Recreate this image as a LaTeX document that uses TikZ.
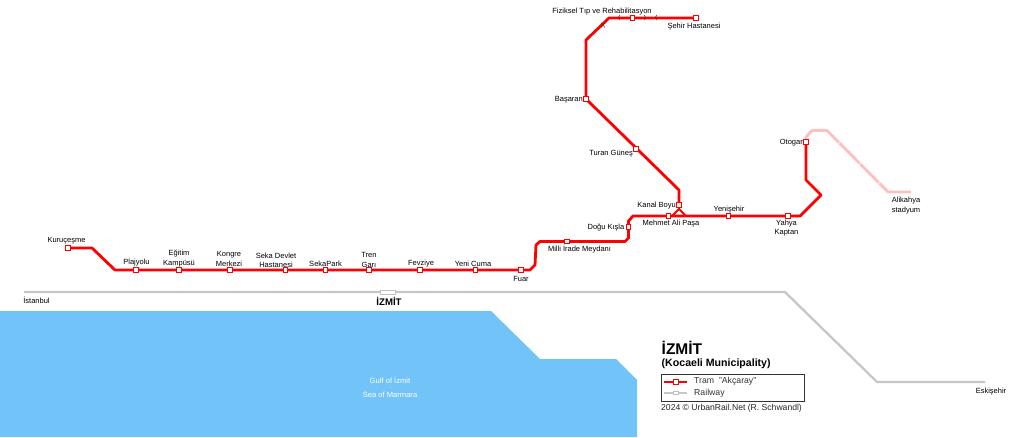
\documentclass[tikz,border=0pt]{standalone}
\usepackage{fontspec}
\setmainfont{Liberation Sans}
\tikzset{x=1pt,y=-1pt,
 tram/.style={draw=red,line width=2.8pt,line join=round},
 pale/.style={draw=red!25,line width=2.8pt,line join=round},
 rail/.style={draw=black!22,line width=2.3pt,line join=round},
 stn/.style={draw=red,fill=white,line width=0.9pt,minimum size=4.4pt,inner sep=0pt,rectangle},
 lab/.style={font=\fontsize{7.5}{9.2}\selectfont,text=black,inner sep=0pt,align=center,yshift=-1pt},
 sea/.style={font=\fontsize{7.6}{8}\selectfont,text=white,inner sep=0pt},
 tick/.style={draw=black!80,line width=0.5pt}}
\begin{document}
\begin{tikzpicture}
\useasboundingbox (0,0) rectangle (1024,437);
\fill[fill=white] (0,0) rectangle (1024,437);
\fill[fill={rgb,255:red,113;green,195;blue,248}] (0,311) -- (491,311) -- (540,359) -- (616,359) -- (637,380) -- (637,437) -- (0,437) -- cycle;
\node[sea] at (390,380.5) {Gulf of İzmit};
\node[sea] at (390,394.5) {Sea of Marmara};
% railway
\coordinate (rw) at (24,292); \coordinate (re) at (985,382);
\draw[rail] (rw) -- (785,292) -- (877,382) -- (re);
\node[draw=black!25,fill=white,line width=0.7pt,minimum width=15pt,minimum height=3.8pt,inner sep=0pt] (iz) at (388,292) {};
% pale
\node[inner sep=0pt] (ot0) at (806,142) {};
\coordinate (ali) at (911,192);
\draw[pale] (ot0.center) -- (806,137) -- (812,130.5) -- (827,130.5) -- (888,192) -- (ali);
\foreach \a/\b in {839/143,860/163.5,879/183}{\draw[white,line width=.5pt] (\a-1.4,\b+1.4) -- (\a+1.4,\b-1.4);}
% tram
\coordinate (ku0) at (68,248);
\draw[tram] (ku0) -- (92,248) -- (115,270) -- (521,270) -- (530,270) -- (535,265) -- (536,245) -- (540,241.5) -- (625,241.5) -- (628.5,238) -- (628.5,221) -- (633,216) -- (800,216) -- (821,195) -- (806,180) -- (ot0.center);
\coordinate (kb0) at (679,205);
\coordinate (se0) at (696,18);
\draw[tram] (kb0) -- (679,190) -- (586,99) -- (586,40) -- (609,18) -- (se0);
\draw[tram,line width=2pt] (672,216) -- (679,209) -- (686,216);
\draw[tram,line width=2pt] (kb0) -- (679,209);
% direction ticks
\draw[tick] (620,15) .. controls (618,17) .. (620,20);
\draw[tick] (644,15) .. controls (646,17) .. (644,20);
\draw[tick] (657,15) .. controls (655,17) .. (657,20);
\draw[tick] (601,22.5) -- (605,27.5); \draw[tick] (605,22.5) -- (601,27.5);
% stations
\foreach \n/\x/\y in {kur/68/248,pla/136/270,egi/179/270,kon/230/270,sek/285.5/270,spk/325.5/270,tre/369/270,fev/420/270,yen/475.5/270,fua/521/270,mil/567/241.5,dog/628.5/227,meh/668.5/216,ks/679/205,yns/728.5/216,yah/788/216,oto/806/142,tur/636/149,bas/586/99,fiz/632.5/18,seh/696/18}
 {\node[stn] (\n) at (\x,\y) {};}
% labels
\node[lab] at (66.5,240) {Kuruçeşme};
\node[lab] at (136.5,262) {Plajyolu};
\node[lab] at (179,257.5) {Eğitim\\Kampüsü};
\node[lab] at (229,258) {Kongre\\Merkezi};
\node[lab] at (276,259) {Seka Devlet\\Hastanesi};
\node[lab] at (325.5,263) {SekaPark};
\node[lab] at (369,259) {Tren\\Garı};
\node[lab] at (421,263) {Fevziye};
\node[lab] at (473,263) {Yeni Cuma};
\node[lab] at (521,277.5) {Fuar};
\node[lab] at (579.5,248.5) {Milli İrade Meydanı};
\node[lab,anchor=east] at (624.5,227) {Doğu Kışla};
\node[lab,anchor=east] at (676,205) {Kanal Boyu};
\node[lab] at (671,222.5) {Mehmet Ali Paşa};
\node[lab] at (729,208.5) {Yenişehir};
\node[lab] at (786.5,227) {Yahya\\Kaptan};
\node[lab,anchor=east] at (803,142) {Otogar};
\node[lab] at (906,204.5) {Alikahya\\stadyum};
\node[lab,anchor=east] at (633,152.5) {Turan Güneş};
\node[lab,anchor=east] at (583,99) {Başaran};
\node[lab] at (602,11) {Fiziksel Tıp ve Rehabilitasyon};
\node[lab] at (694,25.5) {Şehir Hastanesi};
\node[lab] at (36.5,299.5) {İstanbul};
\node[lab] at (991,391) {Eskişehir};
\node[lab,yshift=1pt,font=\fontsize{9.6}{10}\selectfont\bfseries] at (389,301) {İZMİT};
% legend
\node[inner sep=0pt,anchor=west,font=\fontsize{15.5}{16}\selectfont\bfseries] at (661.5,348) {İZMİT};
\node[inner sep=0pt,anchor=west,font=\fontsize{10.6}{11}\selectfont\bfseries] at (661.5,363.5) {(Kocaeli Municipality)};
\node[draw=black!80,line width=0.8pt,fill=white,minimum width=143pt,minimum height=27pt,inner sep=0pt] (lg) at (732.5,387.5) {};
\coordinate (l1a) at (664,382); \coordinate (l1b) at (687,382);
\coordinate (l2a) at (664,393); \coordinate (l2b) at (687,393);
\draw[tram,line width=2.4pt] (l1a) -- (l1b);
\node[stn,minimum width=5pt] (l1s) at (675.5,382) {};
\draw[rail,line width=2.2pt] (l2a) -- (l2b);
\node[draw=black!25,fill=white,line width=.6pt,minimum width=5pt,minimum height=3.4pt,inner sep=0pt] (l2s) at (675.5,393) {};
\node[inner sep=0pt,anchor=west,font=\fontsize{8.7}{9}\selectfont,text=black!80] at (694,381.5) {Tram \ "Akçaray"};
\node[inner sep=0pt,anchor=west,font=\fontsize{8.7}{9}\selectfont,text=black!80] at (694,393) {Railway};
\node[inner sep=0pt,anchor=west,font=\fontsize{8.6}{9}\selectfont,text=black!85] at (661,408) {2024 © UrbanRail.Net (R. Schwandl)};
\end{tikzpicture}
\end{document}
